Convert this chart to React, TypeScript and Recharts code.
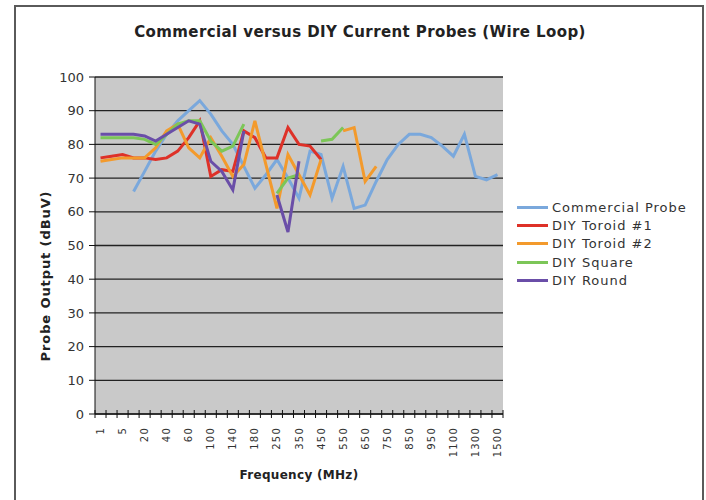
import React from 'react';
import { LineChart, Line, XAxis, YAxis, CartesianGrid, Legend } from 'recharts';

const frequencies = ['1', '3', '5', '10', '20', '30', '40', '50', '60', '80', '100', '120', '140', '160', '180', '200',
  '250', '300', '350', '400', '450', '500', '550', '600', '650', '700', '750', '800', '850', '900', '950', '1000',
  '1100', '1200', '1300', '1400', '1500'];

const commercialProbe = [null, null, null, 66, 72, 78, 83, 87, 90, 93, 89, 84, 80, 73.5, 67, 71, 75.5, 70, 64, 78,
  77, 64, 73.5, 61, 62, 69, 75.5, 80, 83, 83, 82, 79.5, 76.5, 83, 70.5, 69.5, 71];
const diyToroid1 = [76, 76.5, 77, 76, 76, 75.5, 76, 78, 82, 87, 70.5, 72.5, 72, 84, 82, 76, 76, 85, 80, 79.5, 75.5,
  null, null, null, null, null, null, null, null, null, null, null, null, null, null, null, null];
const diyToroid2 = [75, 75.5, 76, 76, 76, 79, 84, 86, 79, 76, 82, 76.5, 70.5, 74, 87, 74, 61, 77, 71, 65, 75.5,
  null, 84, 85, 69, 73.5, null, null, null, null, null, null, null, null, null, null, null];
const diySquare = [82, 82, 82, 82, 81.5, 80, 83, 86, 87, 87, 81, 78, 79.5, 86, null, null, 65.5, 70, 71, null,
  81, 81.5, 85, null, null, null, null, null, null, null, null, null, null, null, null, null, null];
const diyRound = [83, 83, 83, 83, 82.5, 81, 83, 85, 87, 86, 75, 72, 66.5, 84, null, null, 65, 54, 75, null,
  null, null, null, null, null, null, null, null, null, null, null, null, null, null, null, null, null];

const seriesNames = ['Commercial Probe', 'DIY Toroid #1', 'DIY Toroid #2', 'DIY Square', 'DIY Round'];
const yTicks = [0, 10, 20, 30, 40, 50, 60, 70, 80, 90, 100];

const data = frequencies.map((f, i) => ({
  freq: f,
  commercial: commercialProbe[i],
  toroid1: diyToroid1[i],
  toroid2: diyToroid2[i],
  square: diySquare[i],
  round: diyRound[i],
}));

const FONT = '"DejaVu Sans", Verdana, sans-serif';
const HALF_BAND = 408 / frequencies.length / 2;

// Excel style: ticks between categories, labels on every other category, rotated
const FreqTick = (props: any) => {
  const { x, y, payload, index } = props;
  const last = index === frequencies.length - 1;
  return (
    <g>
      <line x1={x - HALF_BAND} x2={x - HALF_BAND} y1={y - 4} y2={y + 4} stroke="#111" />
      {last && <line x1={x + HALF_BAND} x2={x + HALF_BAND} y1={y - 4} y2={y + 4} stroke="#111" />}
      {index % 2 === 0 && (
        <text
          x={x}
          y={y + 13}
          transform={`rotate(-90 ${x} ${y + 13})`}
          textAnchor="end"
          dy="0.35em"
          fontSize={10}
          letterSpacing={1.2}
          fontFamily={FONT}
          fill="#333"
        >
          {payload.value}
        </text>
      )}
    </g>
  );
};

const renderLegend = (props: any) => {
  const items = [...(props.payload || [])].sort(
    (a: any, b: any) => seriesNames.indexOf(a.value) - seriesNames.indexOf(b.value)
  );
  return (
    <div style={{ fontFamily: FONT, fontSize: 13, color: '#333', letterSpacing: 1 }}>
      {items.map((entry: any) => (
        <div key={entry.value} style={{ display: 'flex', alignItems: 'center', height: 18.4 }}>
          <div style={{ width: 31, height: 3, background: entry.color, marginRight: 4 }} />
          <span>{entry.value}</span>
        </div>
      ))}
    </div>
  );
};

export default function App() {
  return (
    <div style={{ position: 'absolute', left: 0, top: 0, width: 706, height: 500, background: '#fff', overflow: 'hidden' }}>
      <div
        style={{
          position: 'absolute', left: 14, top: 5, width: 690, height: 495, boxSizing: 'border-box',
          border: '2px solid #5a5a5a', borderBottom: 'none',
        }}
      />
      <div
        style={{
          position: 'absolute', left: 360, top: 23, transform: 'translateX(-50%)', whiteSpace: 'nowrap',
          fontFamily: FONT, fontWeight: 'bold', fontSize: 15, letterSpacing: 0.4, color: '#222',
        }}
      >
        Commercial versus DIY Current Probes (Wire Loop)
      </div>
      <div style={{ position: 'absolute', left: 0, top: 0 }}>
        <LineChart width={706} height={500} data={data} margin={{ top: 77, right: 203, bottom: 0, left: 0 }}>
          <CartesianGrid horizontal vertical={false} stroke="#222" strokeWidth={1.3} fill="#c9c9c9" fillOpacity={1} />
          <XAxis
            dataKey="freq"
            type="category"
            interval={0}
            height={86}
            padding={{ left: HALF_BAND, right: HALF_BAND }}
            tickLine={false}
            tickSize={0}
            tickMargin={0}
            axisLine={{ stroke: '#111' }}
            tick={<FreqTick />}
            label={{
              content: (p: any) => (
                <text
                  x={p.viewBox.x + p.viewBox.width / 2}
                  y={p.viewBox.y + 65}
                  textAnchor="middle"
                  fontFamily={FONT}
                  fontWeight="bold"
                  fontSize={12}
                  letterSpacing={0.3}
                  fill="#222"
                >
                  Frequency (MHz)
                </text>
              ),
            }}
          />
          <YAxis
            domain={[0, 100]}
            ticks={yTicks}
            width={95}
            tickSize={6}
            tickMargin={5}
            axisLine={{ stroke: '#111' }}
            tickLine={{ stroke: '#111' }}
            tick={{ fontSize: 13, fill: '#333', fontFamily: FONT }}
            label={{
              content: () => (
                <text
                  x={45}
                  y={276}
                  transform="rotate(-90 45 276)"
                  textAnchor="middle"
                  dominantBaseline="central"
                  fontFamily={FONT}
                  fontWeight="bold"
                  fontSize={13}
                  letterSpacing={0.9}
                  fill="#222"
                >
                  Probe Output (dBuV)
                </text>
              ),
            }}
          />
          <YAxis yAxisId="frame" orientation="right" domain={[0, 100]} width={0} tick={false} tickLine={false} axisLine={{ stroke: '#8a8a8a' }} />
          <Legend
            layout="vertical"
            align="center"
            verticalAlign="middle"
            wrapperStyle={{ left: 517, top: 198, width: 188 }}
            content={renderLegend}
          />
          <Line type="linear" dataKey="commercial" name="Commercial Probe" stroke="#7aa8dc" strokeWidth={3} dot={false} isAnimationActive={false} />
          <Line type="linear" dataKey="toroid1" name="DIY Toroid #1" stroke="#de3128" strokeWidth={3} dot={false} isAnimationActive={false} />
          <Line type="linear" dataKey="toroid2" name="DIY Toroid #2" stroke="#f39a2c" strokeWidth={3} dot={false} isAnimationActive={false} />
          <Line type="linear" dataKey="square" name="DIY Square" stroke="#7cc658" strokeWidth={3} dot={false} isAnimationActive={false} />
          <Line type="linear" dataKey="round" name="DIY Round" stroke="#6a4ea8" strokeWidth={3} dot={false} isAnimationActive={false} />
        </LineChart>
      </div>
    </div>
  );
}
